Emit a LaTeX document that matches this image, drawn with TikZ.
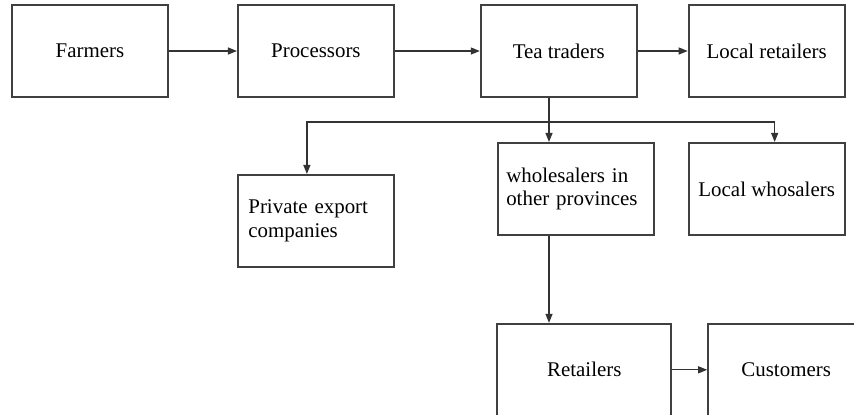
\documentclass[tikz,border=0pt]{standalone}
\usepackage{fontspec}
\setmainfont{Liberation Serif}
\usetikzlibrary{positioning, arrows.meta}
\tikzset{
  >={Triangle[length=1.8mm, width=1.4mm]},
  box/.style={draw=black!75, line width=1.1pt, minimum width=3.12cm, minimum height=1.84cm, inner sep=0pt, align=center, font=\fontsize{11.9}{13.3}\selectfont},
  leftbox/.style={box, text width=#1, align=left},
  link/.style={draw=black!80, line width=0.7pt},
}

\begin{document}
\begin{tikzpicture}[x=0.02cm, y=-0.02cm]
  \useasboundingbox (0,0) rectangle (854,414);
  \clip (0,0) rectangle (854,414);

  % top row
  \node[box] (farm) at (90,51) {Farmers};
  \node[box, right=1.36cm of farm] (proc) {Processors};
  \node[box, right=1.70cm of proc] (trader) {Tea traders};
  \node[box, right=1.0cm of trader] (localret) {Local retailers};

  % second row
  \node[leftbox=2.7cm, below=1.52cm of proc] (export) {Private export\\companies};
  \node[leftbox=2.78cm, below=0.88cm of trader, xshift=0.34cm] (whole) {wholesalers in\\other provinces};
  \node[box, below=0.88cm of localret] (localwh) {Local whosalers};

  % bottom row
  \node[box, minimum width=3.48cm, below=1.74cm of whole, xshift=0.17cm] (retail) {Retailers};
  \node[box, right=0.7cm of retail] (cust) {Customers};

  \coordinate (split) at (549,122);

  \draw[link, ->] (farm) -- (proc);
  \draw[link, ->] (proc) -- (trader);
  \draw[link, ->] (trader) -- (localret);
  \draw[link] (split |- trader.south) -- (split);
  \draw[link, ->] (split) -| ([xshift=-0.18cm]export.north);
  \draw[link, ->] (split) -| ([xshift=0.16cm]localwh.north);
  \draw[link, ->] (split) -- (split |- whole.north);
  \draw[link, ->] (split |- whole.south) -- (split |- retail.north);
  \draw[link, ->] (retail) -- (cust);
\end{tikzpicture}
\end{document}
